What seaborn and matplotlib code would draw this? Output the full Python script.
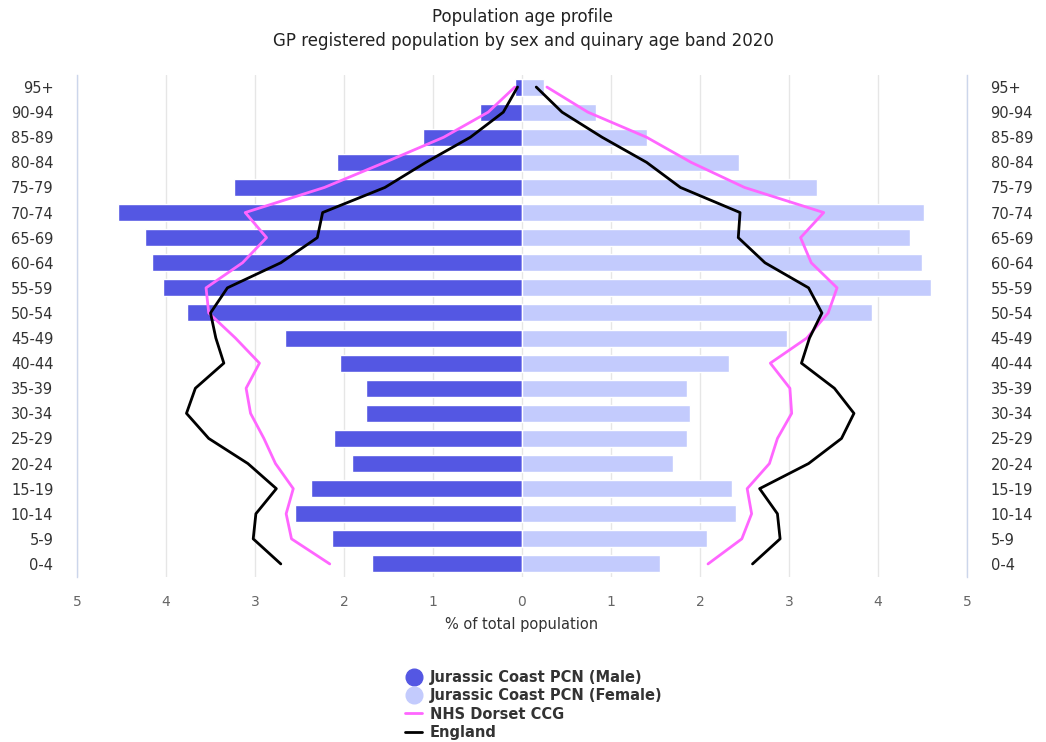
import numpy as np
import pandas as pd
import matplotlib.pyplot as plt
import seaborn as sns
from matplotlib.lines import Line2D

# Age bands, top of the pyramid first
ages = ["95+", "90-94", "85-89", "80-84", "75-79", "70-74", "65-69", "60-64",
        "55-59", "50-54", "45-49", "40-44", "35-39", "30-34", "25-29",
        "20-24", "15-19", "10-14", "5-9", "0-4"]

# % of total population
pcn_male = [0.08, 0.47, 1.11, 2.08, 3.24, 4.54, 4.24, 4.16, 4.03, 3.76,
            2.66, 2.04, 1.75, 1.75, 2.11, 1.91, 2.37, 2.55, 2.14, 1.69]
pcn_female = [0.25, 0.83, 1.41, 2.44, 3.31, 4.52, 4.36, 4.49, 4.60, 3.93,
              2.98, 2.33, 1.85, 1.89, 1.85, 1.70, 2.36, 2.41, 2.08, 1.55]
ccg_male = [0.08, 0.38, 0.88, 1.54, 2.22, 3.11, 2.87, 3.14, 3.55, 3.52,
            3.22, 2.95, 3.10, 3.05, 2.90, 2.77, 2.57, 2.65, 2.59, 2.16]
ccg_female = [0.28, 0.74, 1.40, 1.90, 2.50, 3.39, 3.13, 3.25, 3.54, 3.44,
              3.20, 2.79, 3.01, 3.03, 2.87, 2.78, 2.53, 2.58, 2.47, 2.09]
eng_male = [0.05, 0.21, 0.58, 1.08, 1.54, 2.24, 2.30, 2.71, 3.31, 3.50,
            3.44, 3.35, 3.67, 3.77, 3.52, 3.08, 2.76, 2.99, 3.02, 2.71]
eng_female = [0.16, 0.45, 0.90, 1.40, 1.78, 2.45, 2.43, 2.73, 3.22, 3.37,
              3.23, 3.14, 3.51, 3.73, 3.59, 3.22, 2.67, 2.87, 2.90, 2.59]

male_col = "#5457e3"
female_col = "#c3cbfd"
ccg_col = "#ff66ff"

sns.set_theme(style="white")
plt.rcParams["font.family"] = ["DejaVu Sans"]

fig = plt.figure(figsize=(10.46, 7.42), dpi=100)
ax = fig.add_axes([77 / 1046, 1 - 577 / 742, (967 - 77) / 1046, (577 - 75) / 742])

# bars: males on the left as negatives
df = pd.DataFrame({
    "age": ages * 2,
    "pct": [-v for v in pcn_male] + pcn_female,
    "sex": ["Male"] * len(ages) + ["Female"] * len(ages),
})
sns.barplot(data=df, x="pct", y="age", hue="sex", order=ages, dodge=False,
            palette={"Male": male_col, "Female": female_col}, width=0.68,
            orient="h", legend=False, ax=ax, saturation=1)

# comparison lines, one segment per side
pos = np.arange(len(ages))
for vals, col in [(ccg_male, ccg_col), (eng_male, "black")]:
    sns.lineplot(x=-np.array(vals), y=pos, sort=False, orient="y", estimator=None,
                 color=col, lw=2, ax=ax)
for vals, col in [(ccg_female, ccg_col), (eng_female, "black")]:
    sns.lineplot(x=np.array(vals), y=pos, sort=False, orient="y", estimator=None,
                 color=col, lw=2, ax=ax)

ax.set_xlim(-5, 5)
ax.set_ylim(19.52, -0.48)
ax.set_xticks(range(-5, 6))
ax.set_xticklabels([str(abs(t)) for t in range(-5, 6)], color="#666666", fontsize=10)
ax.xaxis.grid(True, color="#e6e6e6", lw=1)
ax.set_axisbelow(True)
ax.tick_params(axis="y", labelright=True, left=False, right=False,
               labelsize=10.5, labelcolor="#333333", pad=11)
ax.tick_params(axis="x", bottom=False, pad=7)
for s in ["top", "bottom"]:
    ax.spines[s].set_visible(False)
for s in ["left", "right"]:
    ax.spines[s].set_color("#ccd6eb")
    ax.spines[s].set_linewidth(1)
ax.set_ylabel("")
ax.set_xlabel("% of total population", fontsize=10.5, color="#333333", labelpad=6)

fig.text(0.5, 1 - 29 / 742,
         "Population age profile\nGP registered population by sex and quinary age band 2020",
         ha="center", va="center", fontsize=12, color="#222222", linespacing=1.5)

handles = [
    Line2D([], [], marker="o", linestyle="", markersize=12, color=male_col),
    Line2D([], [], marker="o", linestyle="", markersize=12, color=female_col),
    Line2D([], [], color=ccg_col, lw=2),
    Line2D([], [], color="black", lw=2),
]
labels = ["Jurassic Coast PCN (Male)", "Jurassic Coast PCN (Female)",
          "NHS Dorset CCG", "England"]
leg = fig.legend(handles, labels, loc="upper center", bbox_to_anchor=(0.51, 1 - 657 / 742),
                 frameon=False, handlelength=1.2, handletextpad=0.5, labelspacing=0.22,
                 prop={"weight": "bold", "size": 10.5})
for t in leg.get_texts():
    t.set_color("#333333")

fig.savefig("out.png", dpi=100)
